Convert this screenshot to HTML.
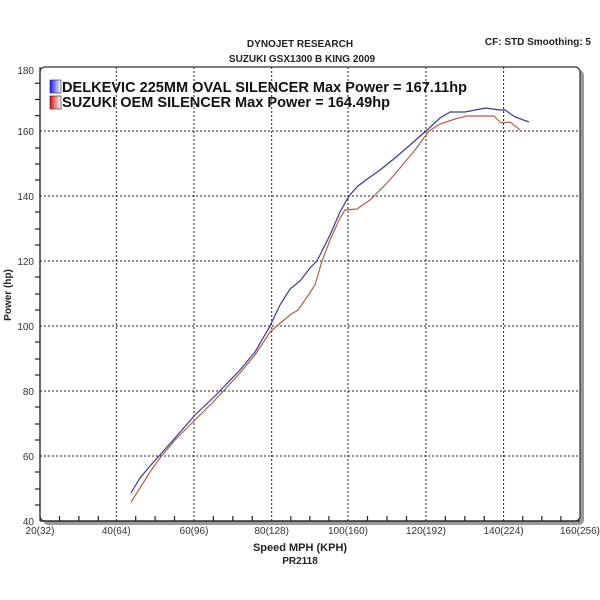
<!DOCTYPE html>
<html><head><meta charset="utf-8"><style>
html,body{margin:0;padding:0;background:#fff;}
svg{display:block;font-family:"Liberation Sans",Arial,sans-serif;}
</style></head><body>
<svg width="600" height="600" viewBox="0 0 600 600" xmlns="http://www.w3.org/2000/svg">
<defs>
<linearGradient id="gb" x1="0" x2="1"><stop offset="0" stop-color="#1a1aff"/><stop offset="1" stop-color="#fff"/></linearGradient>
<linearGradient id="gr" x1="0" x2="1"><stop offset="0" stop-color="#e01010"/><stop offset="1" stop-color="#fff"/></linearGradient>
</defs>
<text x="300" y="47" font-size="10" font-weight="bold" text-anchor="middle" fill="#222">DYNOJET RESEARCH</text>
<text x="302" y="62" font-size="10" font-weight="bold" text-anchor="middle" fill="#222">SUZUKI GSX1300 B KING 2009</text>
<text x="591" y="45" font-size="10" font-weight="bold" text-anchor="end" fill="#222">CF: STD  Smoothing: 5</text>
<!-- shadow -->
<rect x="43" y="70" width="541" height="455" rx="5" fill="#999"/>
<rect x="40" y="67" width="540" height="454" rx="5" fill="#fff" stroke="#333" stroke-width="1.2"/>
<!-- grid -->
<g stroke="#222" stroke-width="1" stroke-dasharray="2,2">
<line x1="116.3" y1="67" x2="116.3" y2="521"/><line x1="194" y1="67" x2="194" y2="521"/>
<line x1="271.7" y1="67" x2="271.7" y2="521"/><line x1="348" y1="67" x2="348" y2="521"/>
<line x1="426" y1="67" x2="426" y2="521"/><line x1="503.6" y1="67" x2="503.6" y2="521"/>
<line x1="40" y1="131" x2="580" y2="131"/><line x1="40" y1="196" x2="580" y2="196"/>
<line x1="40" y1="261" x2="580" y2="261"/><line x1="40" y1="326" x2="580" y2="326"/>
<line x1="40" y1="391" x2="580" y2="391"/><line x1="40" y1="456" x2="580" y2="456"/>
</g>
<!-- axes ticks -->
<g stroke="#222" stroke-width="1.2">
<line x1="40" y1="67" x2="40" y2="521"/><line x1="40" y1="521" x2="580" y2="521"/>
<line x1="35" y1="83.2" x2="40" y2="83.2"/><line x1="35" y1="99.4" x2="40" y2="99.4"/><line x1="35" y1="115.6" x2="40" y2="115.6"/>
<line x1="35" y1="148" x2="40" y2="148"/><line x1="35" y1="164" x2="40" y2="164"/><line x1="35" y1="180" x2="40" y2="180"/>
<line x1="35" y1="212" x2="40" y2="212"/><line x1="35" y1="229" x2="40" y2="229"/><line x1="35" y1="245" x2="40" y2="245"/>
<line x1="35" y1="277" x2="40" y2="277"/><line x1="35" y1="294" x2="40" y2="294"/><line x1="35" y1="310" x2="40" y2="310"/>
<line x1="35" y1="342" x2="40" y2="342"/><line x1="35" y1="359" x2="40" y2="359"/><line x1="35" y1="375" x2="40" y2="375"/>
<line x1="35" y1="407" x2="40" y2="407"/><line x1="35" y1="424" x2="40" y2="424"/><line x1="35" y1="440" x2="40" y2="440"/>
<line x1="35" y1="472" x2="40" y2="472"/><line x1="35" y1="489" x2="40" y2="489"/><line x1="35" y1="505" x2="40" y2="505"/>
</g>
<g stroke="#222" stroke-width="1.2" id="xt"></g>
<g stroke="#222" stroke-width="1.2">
<line x1="59.5" y1="516" x2="59.5" y2="521"/><line x1="78.9" y1="516" x2="78.9" y2="521"/><line x1="98.3" y1="516" x2="98.3" y2="521"/>
<line x1="135.7" y1="516" x2="135.7" y2="521"/><line x1="155.1" y1="516" x2="155.1" y2="521"/><line x1="174.5" y1="516" x2="174.5" y2="521"/>
<line x1="213.4" y1="516" x2="213.4" y2="521"/><line x1="232.8" y1="516" x2="232.8" y2="521"/><line x1="252.2" y1="516" x2="252.2" y2="521"/>
<line x1="290.8" y1="516" x2="290.8" y2="521"/><line x1="309.8" y1="516" x2="309.8" y2="521"/><line x1="328.9" y1="516" x2="328.9" y2="521"/>
<line x1="367.5" y1="516" x2="367.5" y2="521"/><line x1="387" y1="516" x2="387" y2="521"/><line x1="406.5" y1="516" x2="406.5" y2="521"/>
<line x1="445.4" y1="516" x2="445.4" y2="521"/><line x1="464.8" y1="516" x2="464.8" y2="521"/><line x1="484.2" y1="516" x2="484.2" y2="521"/>
<line x1="522.7" y1="516" x2="522.7" y2="521"/><line x1="541.8" y1="516" x2="541.8" y2="521"/><line x1="560.9" y1="516" x2="560.9" y2="521"/>
</g>
<!-- y labels -->
<g font-size="10" fill="#333" text-anchor="end">
<text x="34" y="74">180</text><text x="34" y="135">160</text><text x="34" y="200">140</text>
<text x="34" y="265">120</text><text x="34" y="330">100</text><text x="34" y="395">80</text>
<text x="34" y="460">60</text><text x="34" y="525">40</text>
</g>
<g font-size="10" fill="#333" text-anchor="middle">
<text x="40" y="534">20(32)</text><text x="116.3" y="534">40(64)</text><text x="194" y="534">60(96)</text>
<text x="271.7" y="534">80(128)</text><text x="348" y="534">100(160)</text><text x="426" y="534">120(192)</text>
<text x="503.6" y="534">140(224)</text><text x="580" y="534">160(256)</text>
</g>
<text x="300" y="551" font-size="11" font-weight="bold" text-anchor="middle" fill="#222">Speed MPH (KPH)</text>
<text x="300" y="564" font-size="10" font-weight="bold" text-anchor="middle" fill="#222">PR2118</text>
<text transform="translate(11,295) rotate(-90)" font-size="10" font-weight="bold" text-anchor="middle" fill="#222">Power (hp)</text>
<!-- legend -->
<rect x="50" y="80" width="11" height="13" fill="url(#gb)" stroke="#222" stroke-width="0.6"/>
<rect x="50" y="96" width="11" height="13" fill="url(#gr)" stroke="#222" stroke-width="0.6"/>
<text x="62" y="92" font-size="15" font-weight="bold" fill="#111" textLength="405" lengthAdjust="spacingAndGlyphs">DELKEVIC 225MM OVAL SILENCER Max Power = 167.11hp</text>
<text x="62" y="107" font-size="15" font-weight="bold" fill="#111" textLength="328" lengthAdjust="spacingAndGlyphs">SUZUKI OEM SILENCER Max Power = 164.49hp</text>
<!-- curves -->
<polyline fill="none" stroke="#b0604a" stroke-width="1.2" points="131,502 140,488 150,472 160,458 175,440 195,420 215,400 240,373 255,355 270,332 278,325 290,315 298,310 305,300 315,285 322,261 330,240 340,218 345,210 357,209 370,200 388,182 400,168 415,150 429,131 440,124 455,119 467,116 494,116 501,123 510,122 520,130"/>
<polyline fill="none" stroke="#3a3a8a" stroke-width="1.2" points="131,493 140,478 150,466 160,455 175,438 195,415 215,396 240,370 255,352 270,326 280,305 290,289 300,281 310,268 317,261 330,235 340,212 349,196 358,186 366,180 380,170 395,158 410,145 426,131 440,118 450,112 465,112 475,110 486,108 500,110 505,110 515,117 529,122"/>
</svg>
</body></html>
